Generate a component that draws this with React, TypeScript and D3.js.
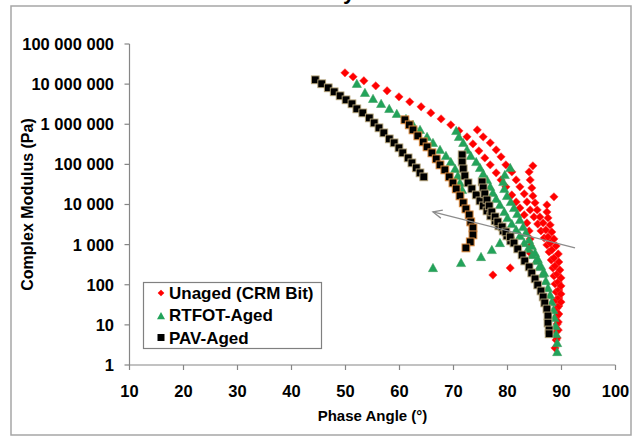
import React from 'react';
import * as d3 from 'd3';

type Pt = [number, number]; // [phase angle (deg), complex modulus (Pa)]

const xTickValues = [10, 20, 30, 40, 50, 60, 70, 80, 90, 100];
const yTickValues = [1, 10, 100, 1e3, 1e4, 1e5, 1e6, 1e7, 1e8];
const yTickLabels = ['1', '10', '100', '1 000', '10 000', '100 000', '1 000 000', '10 000 000', '100 000 000'];
const seriesNames = ['Unaged (CRM Bit)', 'RTFOT-Aged', 'PAV-Aged'];

// Unaged (CRM Bit)
const unagedIso1: Pt[] = [
  [49.9, 1.91e7], [51.4, 1.52e7], [53.4, 1.21e7], [55.6, 9.07e6], [57.7, 6.81e6], [59.9, 4.82e6],
  [61.9, 3.62e6], [64.0, 2.72e6], [65.8, 1.92e6], [67.7, 1.36e6], [69.5, 9.66e5], [71.0, 6.84e5],
  [72.5, 4.85e5], [73.6, 3.24e5], [74.7, 2.17e5], [75.8, 1.45e5], [76.8, 9.72e4], [77.9, 6.14e4],
  [78.8, 4.1e4], [79.7, 2.75e4], [80.8, 1.73e4], [81.6, 1.16e4], [82.3, 8.22e3], [83.1, 5.51e3],
  [83.6, 3.48e3], [84.0, 2.2e3], [84.2, 1.39e3], [84.2, 929], [84.2, 621],
];
const unagedIso2: Pt[] = [
  [74.4, 7.24e5], [75.5, 4.85e5], [76.8, 3.44e5], [77.9, 2.3e5], [78.8, 1.54e5], [79.7, 9.72e4],
  [80.8, 6.5e4], [81.6, 4.1e4], [82.3, 2.75e4], [83.1, 1.84e4], [83.6, 1.16e4], [84.2, 7.33e3],
  [84.9, 4.91e3], [85.6, 3.28e3], [86.2, 2.2e3], [86.8, 1.47e3], [87.3, 984], [87.7, 658],
  [88.1, 415], [88.4, 262], [88.6, 166], [88.8, 105], [89.0, 66.1], [89.0, 41.8], [89.2, 26.4],
  [89.2, 16.7], [89.2, 10.5], [89.0, 6.65], [89.0, 4.2], [88.8, 2.65],
];
const unagedIso3: Pt[] = [
  [84.7, 9.18e4], [84.0, 6.5e4], [84.2, 4.1e4], [84.5, 2.59e4], [84.7, 1.64e4], [85.1, 1.1e4],
  [85.5, 7.33e3], [86.0, 4.91e3], [86.6, 3.48e3], [87.1, 2.33e3], [87.5, 1.56e3], [87.9, 1.1e3],
  [88.2, 738], [88.6, 466], [88.8, 294], [89.2, 186], [89.4, 117], [89.5, 74.2], [89.5, 46.9],
  [89.5, 29.6], [89.5, 18.7], [89.4, 11.8], [89.4, 7.46], [89.2, 4.71],
];
const unagedIso4: Pt[] = [
  [88.6, 1.55e4], [87.3, 9.77e3], [87.3, 6.53e3], [87.5, 4.63e3], [87.9, 3.1e3], [88.2, 2.07e3],
  [88.6, 1.39e3], [89.0, 929], [89.4, 586], [89.5, 370], [89.7, 234], [89.9, 148], [89.9, 93.4],
  [89.9, 59.0], [89.9, 37.2],
];
const unagedScatter: Pt[] = [[80.5, 262], [77.3, 175]];

// RTFOT-Aged
const rtfotIso1: Pt[] = [
  [52.1, 1.02e7], [53.6, 6.07e6], [55.1, 4.3e6], [56.6, 3.23e6], [58.1, 2.42e6], [59.5, 1.82e6],
  [61.2, 1.36e6], [62.5, 9.66e5], [63.8, 7.24e5], [65.1, 4.85e5], [66.2, 3.44e5], [67.5, 2.3e5],
  [68.6, 1.63e5], [69.5, 1.15e5], [70.3, 7.73e4], [70.8, 5.16e4], [71.2, 3.46e4], [71.6, 2.31e4],
];
const rtfotIso2: Pt[] = [
  [70.5, 6.84e5], [71.0, 4.85e5], [71.8, 3.44e5], [72.5, 2.3e5], [73.2, 1.63e5], [74.2, 1.15e5],
  [74.9, 8.18e4], [75.5, 5.8e4], [76.2, 4.1e4], [76.8, 2.75e4], [77.3, 1.95e4], [77.9, 1.38e4],
  [78.6, 9.77e3], [79.4, 6.53e3], [80.0, 4.63e3], [80.8, 3.28e3], [81.6, 2.33e3], [82.3, 1.65e3],
  [83.1, 1.1e3], [83.8, 781], [84.6, 553], [85.3, 392], [85.9, 278], [86.5, 186], [87.1, 124],
  [87.5, 83.2], [87.9, 55.7], [88.2, 37.2], [88.5, 23.5], [88.7, 14.9], [88.9, 9.39], [89.0, 5.93],
  [89.2, 3.54], [89.2, 2.11],
];
const rtfotIso3: Pt[] = [
  [80.5, 8.18e4], [79.5, 5.47e4], [79.2, 3.66e4], [79.4, 2.45e4], [79.9, 1.64e4], [80.6, 1.16e4],
  [81.2, 8.22e3], [81.8, 5.83e3], [82.3, 4.13e3], [82.9, 2.76e3], [83.4, 1.96e3], [84.0, 1.31e3],
  [84.5, 929], [85.1, 621], [85.6, 440], [86.2, 294], [86.8, 197],
];
const rtfotScatter: Pt[] = [[66.2, 262], [71.4, 350], [75.1, 493], [77.1, 738], [78.6, 1.1e3]];

// PAV-Aged
const pavIso1: Pt[] = [
  [44.4, 1.28e7], [45.6, 1.02e7], [46.8, 8.09e6], [47.9, 6.43e6], [49.0, 5.11e6], [50.1, 4.06e6],
  [51.2, 3.23e6], [52.1, 2.42e6], [53.2, 1.92e6], [54.4, 1.44e6], [55.3, 1.08e6], [56.2, 8.13e5],
  [57.1, 6.1e5], [58.1, 4.32e5], [59.0, 3.44e5], [59.9, 2.58e5], [60.6, 1.94e5], [61.6, 1.45e5],
  [62.3, 1.09e5], [63.1, 8.18e4], [63.8, 6.14e4], [64.5, 4.88e4],
];
const pavIso2: Pt[] = [
  [61.0, 1.29e6], [61.8, 9.66e5], [62.5, 7.24e5], [63.4, 5.14e5], [64.4, 3.64e5], [65.1, 2.73e5],
  [66.0, 1.94e5], [66.8, 1.37e5], [67.5, 9.72e4], [68.4, 7.29e4], [69.2, 4.88e4], [69.9, 3.46e4],
  [70.5, 2.45e4], [71.2, 1.64e4], [71.8, 1.1e4], [72.3, 7.76e3], [72.9, 5.51e3], [73.2, 3.68e3],
  [73.6, 2.61e3], [73.6, 1.75e3], [73.1, 1.17e3], [72.3, 828],
];
const pavIso3: Pt[] = [
  [71.6, 1.73e5], [71.6, 1.15e5], [71.8, 7.73e4], [72.1, 5.16e4], [72.7, 3.46e4], [73.4, 2.45e4],
  [74.2, 1.73e4], [74.9, 1.23e4], [75.5, 9.23e3], [76.2, 6.92e3], [76.9, 5.2e3], [77.7, 3.9e3],
  [78.4, 2.93e3], [79.2, 2.2e3], [79.9, 1.65e3], [80.6, 1.24e3],
];
const pavIso4: Pt[] = [
  [75.3, 3.66e4], [75.5, 2.59e4], [75.8, 1.84e4], [76.2, 1.3e4], [76.6, 9.23e3], [77.1, 6.53e3],
  [77.7, 4.91e3], [78.2, 3.68e3], [79.0, 2.76e3], [79.7, 2.07e3], [80.5, 1.56e3], [81.2, 1.1e3],
  [81.9, 781], [82.7, 553], [83.2, 392], [84.0, 278], [84.5, 197], [85.1, 140], [85.6, 98.9],
  [86.2, 70.0], [86.6, 49.6], [86.9, 35.2], [87.3, 24.9], [87.5, 16.7], [87.5, 11.1], [87.7, 7.46],
  [87.7, 6.0],
];

// annotation arrow (tail, head) in data units
const arrowTail: Pt = [92.5, 828];
const arrowHead: Pt = [66.2, 6.53e3];

const unaged = [...unagedIso1, ...unagedIso2, ...unagedIso3, ...unagedIso4, ...unagedScatter];
const rtfot = [...rtfotIso1, ...rtfotIso2, ...rtfotIso3, ...rtfotScatter];
const pavEdge = [...pavIso1, ...pavIso3, ...pavIso4];

const FONT = '"Liberation Sans", Arial, sans-serif';
const RED = '#ff0000';
const GREEN = '#22a35a';
const AXIS = '#868686';

const x = d3.scaleLinear().domain([10, 100]).range([129.5, 615.5]);
const y = d3.scaleLog().domain([1, 1e8]).range([365, 44]);

const diamond = (cx: number, cy: number, r: number) =>
  `M${cx},${cy - r}L${cx + r},${cy}L${cx},${cy + r}L${cx - r},${cy}Z`;
const triangle = (cx: number, cy: number, s: number) =>
  `M${cx},${cy - s}L${cx + s},${cy + s * 0.8}L${cx - s},${cy + s * 0.8}Z`;

export default function App() {
  const x0 = x.range()[0];
  const x1 = x.range()[1];
  const yb = y.range()[0];
  const yt = y.range()[1];

  const hx = x(arrowHead[0]);
  const hy = y(arrowHead[1]);
  const tx = x(arrowTail[0]);
  const ty = y(arrowTail[1]);
  const ang = Math.atan2(ty - hy, tx - hx);
  const wing = 10;
  const spread = 0.42;
  const w1 = [hx + wing * Math.cos(ang + spread), hy + wing * Math.sin(ang + spread)];
  const w2 = [hx + wing * Math.cos(ang - spread), hy + wing * Math.sin(ang - spread)];

  return (
    <svg width={638} height={438} style={{ position: 'absolute', left: 0, top: 0, background: '#fff' }}
      fontFamily={FONT}>
      <rect x={0} y={0} width={638} height={438} fill="#fff" />
      <text x={343} y={-1} fontSize={22} fontWeight="bold" fill="#000">y</text>
      <rect x={11} y={6} width={620} height={429} fill="#fff" stroke="#a6a6a6" strokeWidth={1.5} />

      {/* axes */}
      <line x1={x0} x2={x0} y1={yt} y2={yb} stroke={AXIS} strokeWidth={1.2} />
      <line x1={x0} x2={x1} y1={yb} y2={yb} stroke={AXIS} strokeWidth={1.2} />
      {yTickValues.map((v, i) => (
        <g key={'yt' + i}>
          <line x1={x0 - 5} x2={x0} y1={y(v)} y2={y(v)} stroke={AXIS} strokeWidth={1.2} />
          <text x={114} y={y(v)} dy="0.36em" textAnchor="end" fontSize={16.5} fontWeight="bold" fill="#000">
            {yTickLabels[i]}
          </text>
        </g>
      ))}
      {xTickValues.map((v) => (
        <g key={'xt' + v}>
          <line x1={x(v)} x2={x(v)} y1={yb} y2={yb + 5} stroke={AXIS} strokeWidth={1.2} />
          <text x={x(v)} y={397} textAnchor="middle" fontSize={16.5} fontWeight="bold" fill="#000">{v}</text>
        </g>
      ))}
      <text transform={`translate(27,${(yt + yb) / 2}) rotate(-90)`} dy="0.36em" textAnchor="middle"
        fontSize={16} fontWeight="bold" fill="#000">Complex Modulus (Pa)</text>
      <text x={(x0 + x1) / 2} y={421} textAnchor="middle" fontSize={15} fontWeight="bold" fill="#000">
        Phase Angle (°)
      </text>

      {/* series */}
      <g>
        {unaged.map((d, i) => (
          <path key={'u' + i} d={diamond(x(d[0]), y(d[1]), 4.2)} fill={RED} stroke="#ff3b3b" strokeWidth={0.5} />
        ))}
      </g>
      <g>
        {rtfot.map((d, i) => (
          <path key={'r' + i} d={triangle(x(d[0]), y(d[1]), 4.6)} fill={GREEN} stroke="#3a9a5a" strokeWidth={0.5} />
        ))}
      </g>
      <g>
        {pavEdge.map((d, i) => (
          <rect key={'p' + i} x={x(d[0]) - 3.9} y={y(d[1]) - 3.9} width={7.8} height={7.8}
            fill="#000" stroke="#b8a67a" strokeWidth={0.9} />
        ))}
        {pavIso2.map((d, i) => (
          <rect key={'q' + i} x={x(d[0]) - 3.9} y={y(d[1]) - 3.9} width={7.8} height={7.8}
            fill="#000" stroke="#d9893d" strokeWidth={1} />
        ))}
      </g>

      {/* arrow */}
      <g stroke="#8c8c8c" strokeWidth={1.3} fill="none">
        <line x1={tx} y1={ty} x2={hx} y2={hy} />
        <polyline points={`${w1[0]},${w1[1]} ${hx},${hy} ${w2[0]},${w2[1]}`} />
      </g>

      {/* legend */}
      <g>
        <rect x={143.5} y={282.5} width={178} height={66} fill="#fff" stroke="#808080" strokeWidth={1.2} />
        <path d={diamond(161, 293, 3.3)} fill={RED} />
        <path d={triangle(161, 316, 4)} fill={GREEN} />
        <rect x={157.5} y={334} width={7} height={7} fill="#000" />
        {seriesNames.map((n, i) => (
          <text key={n} x={169} y={293 + i * 22.3} dy="0.36em" fontSize={17} fontWeight="bold" fill="#000">{n}</text>
        ))}
      </g>
    </svg>
  );
}
